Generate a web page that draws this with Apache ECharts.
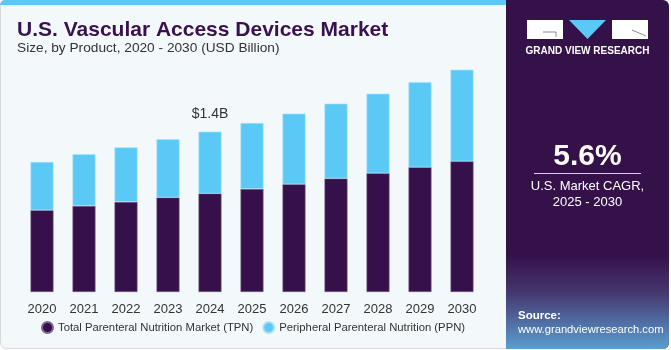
<!DOCTYPE html>
<html>
<head>
<meta charset="utf-8">
<script src="https://cdn.jsdelivr.net/npm/echarts@6/dist/echarts.min.js"></script>
<style>
  html, body { margin: 0; padding: 0; background: #ffffff; }
  #chart { width: 671px; height: 350px; }
</style>
</head>
<body>
<div id="chart"></div>
<script>
const years = ['2020', '2021', '2022', '2023', '2024', '2025', '2026', '2027', '2028', '2029', '2030'];
const tpn = [0.714, 0.752, 0.787, 0.825, 0.860, 0.900, 0.941, 0.991, 1.037, 1.089, 1.141];
const ppn = [0.421, 0.450, 0.476, 0.508, 0.540, 0.575, 0.616, 0.653, 0.694, 0.743, 0.799];
const seriesNames = ['Total Parenteral Nutrition Market (TPN)', 'Peripheral Parenteral Nutrition (PPN)'];
const highlightIndex = 4;
const highlightText = '$1.4B';

const DARK = '#36104a';
const LIGHT = '#5bc9f6';
const FONT = 'Liberation Sans';

const chart = echarts.init(document.getElementById('chart'));

const ppnData = ppn.map((v, i) => i === highlightIndex
  ? { value: v, label: { show: true, position: 'top', distance: 10, formatter: highlightText, fontSize: 14, color: '#333', fontFamily: FONT } }
  : v);

const option = {
  backgroundColor: 'transparent',
  animation: false,
  textStyle: { fontFamily: FONT },
  graphic: [
    // left card
    { type: 'rect', z: -10, shape: { x: 0.5, y: 0.5, width: 520, height: 348, r: 6 },
      style: { fill: '#f3f8fb', stroke: '#d5d9dc', lineWidth: 1 } },
    { type: 'rect', z: -9, shape: { x: 0, y: 0, width: 515, height: 5, r: [5, 0, 0, 0] },
      style: { fill: LIGHT } },
    // right panel
    { type: 'rect', z: -8, shape: { x: 506, y: 0, width: 163, height: 349, r: [0, 6, 6, 0] },
      style: { fill: '#35114a' } },
    { type: 'rect', z: -7, shape: { x: 506, y: 255, width: 163, height: 94, r: [0, 0, 6, 0] },
      style: { fill: new echarts.graphic.LinearGradient(0, 0, 0, 1, [
        { offset: 0, color: 'rgba(53,17,74,1)' },
        { offset: 0.4, color: '#45376f' },
        { offset: 1, color: '#5a9fd0' }
      ]) } },
    // logo
    { type: 'rect', shape: { x: 527, y: 20, width: 36, height: 19 }, style: { fill: '#fff' } },
    { type: 'polyline', shape: { points: [[543, 32], [556, 32], [556, 37]] }, style: { stroke: '#8a8a9a', lineWidth: 1, fill: null } },
    { type: 'polygon', shape: { points: [[569, 20], [606, 20], [587.5, 39]] }, style: { fill: LIGHT } },
    { type: 'rect', shape: { x: 612, y: 20, width: 36, height: 19 }, style: { fill: '#fff' } },
    { type: 'line', shape: { x1: 632, y1: 30, x2: 646, y2: 36 }, style: { stroke: '#8a8a9a', lineWidth: 1 } },
    { type: 'text', style: { x: 587.5, y: 51, text: 'GRAND VIEW RESEARCH', fill: '#fff', font: 'bold 10px ' + FONT,
      align: 'center', verticalAlign: 'middle' } },
    // CAGR
    { type: 'text', style: { x: 587.5, y: 157, text: '5.6%', fill: '#fff', font: 'bold 30px ' + FONT,
      align: 'center', verticalAlign: 'middle' } },
    { type: 'line', shape: { x1: 534, y1: 173.5, x2: 641, y2: 173.5 }, style: { stroke: '#d8d0e0', lineWidth: 1 } },
    { type: 'text', style: { x: 587.5, y: 186, text: 'U.S. Market CAGR,', fill: '#fff', font: '13px ' + FONT,
      align: 'center', verticalAlign: 'middle' } },
    { type: 'text', style: { x: 587.5, y: 202, text: '2025 - 2030', fill: '#fff', font: '13px ' + FONT,
      align: 'center', verticalAlign: 'middle' } },
    // source
    { type: 'text', style: { x: 518, y: 316, text: 'Source:', fill: '#fff', font: 'bold 11.5px ' + FONT,
      verticalAlign: 'middle' } },
    { type: 'text', style: { x: 518, y: 330, text: 'www.grandviewresearch.com', fill: '#fff', font: '11.2px ' + FONT,
      verticalAlign: 'middle' } },
    // titles
    { type: 'text', style: { x: 17, y: 30, text: 'U.S. Vascular Access Devices Market', fill: '#3a1150',
      font: 'bold 21px ' + FONT, verticalAlign: 'middle' } },
    { type: 'text', style: { x: 17, y: 48, text: 'Size, by Product, 2020 - 2030 (USD Billion)', fill: '#333',
      font: '13.7px ' + FONT, verticalAlign: 'middle' } }
  ],
  legend: {
    data: seriesNames,
    bottom: 11,
    left: 36,
    icon: 'circle',
    itemWidth: 11,
    itemHeight: 11,
    itemGap: 9,
    textStyle: { fontSize: 11.3, color: '#333', fontFamily: FONT }
  },
  grid: { left: 21, right: 188, top: 40, bottom: 58 },
  xAxis: {
    type: 'category',
    data: years,
    axisLine: { show: false },
    axisTick: { show: false },
    axisLabel: { fontSize: 13, color: '#333', margin: 11, fontFamily: FONT }
  },
  yAxis: {
    type: 'value',
    min: 0,
    max: 2.2,
    show: false,
    splitLine: { show: false }
  },
  series: [
    {
      name: seriesNames[0], type: 'bar', stack: 'total', barWidth: 23,
      itemStyle: { color: DARK, borderColor: '#7a6590', borderWidth: 0.6 },
      data: tpn
    },
    {
      name: seriesNames[1], type: 'bar', stack: 'total', barWidth: 23,
      itemStyle: { color: LIGHT, borderColor: '#a9e2fa', borderWidth: 0.6 },
      data: ppnData
    }
  ]
};

chart.setOption(option);
</script>
</body>
</html>
